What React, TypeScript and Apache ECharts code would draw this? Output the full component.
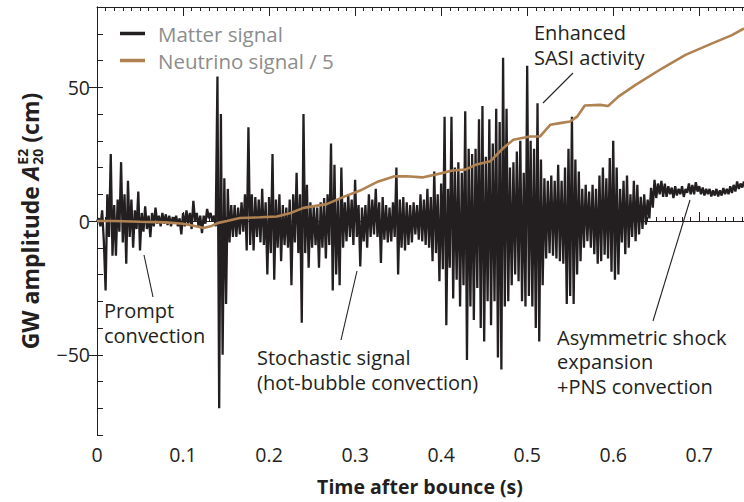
import { useEffect, useRef } from 'react';
import * as echarts from 'echarts';

// Sampling step of the matter-signal trace (s)
const T_STEP = 0.002;

// Matter signal (cm), one value per T_STEP (rows of 0.02 s)
const matterSignal: number[] = [
  0, 1, -2, 4, -8, -26, 10, -6, 25, -13,
  6, -13, 8, -4, 22, -8, 10, -16, 15, -6,
  8, -10, 4, -3, 11, -11, 3, -4, 5.5, -3,
  2, -6, 3, -2, 5, -1, 2, -2, 3, -1,
  2.5, -1.5, 2, -2, 1.5, -1, 2, -2, 1, -5,
  3, -2, 4, -1, 3, -3, 7.5, 0, 3, -2,
  2, -4.5, 2, -1, 4.5, 1, 3, 0, 2, -2,
  54, -70, 40, -50, 16, -31, 12, -8, 6, -6,
  6, -6, 5, -5, 7, -4, 10, -11, 35, -9,
  10, -11, 9, -6, 8, -8, 12, -9, 7, -20,
  9, -12, 25, -22, 8, -10, 10, -15, 6, -9,
  5, -10, 8, -24, 10, -8, 18, -12, 10, -38,
  40, -12, 13.5, -17.5, 7, -10, 6, -9, 5, -17.5,
  7, -10, 8.6, -14, 10, -9, 29, -26, 21, -20,
  8, -24, 20, -10, 7, -7.6, 10, -6, 8, -9,
  15.4, -6, 6, -17, 5, -7.6, 6, -10, 10, -6,
  8, -5, 12, -6, 7, -15.7, 9, -7, 6, -8,
  5, -7.6, 7, -6, 20, -20, 8, -10, 9, -11,
  7, -9, 6, -8, 7, -5, 6, -7, 10, -7.6,
  8, -9, 12, -10, 9, -15, 18.5, -12, 10, -22.5,
  14, -18, 39, -39, 12, -17.5, 39, -29, 20, -22,
  22, -32, 18, -24, 41, -52, 27, -32, 25, -37,
  27, -25, 38, -40, 43, -45, 24, -30, 38, -39,
  29, -30, 42, -51, 37, -55.5, 61, -32, 42, -30,
  20, -24, 22, -20, 26, -22.5, 30, -30, 18, -32,
  58, -28, 30, -32, 27, -40, 44, -45, 23, -24,
  16, -14, 15, -12, 17, -13, 15, -14, 21, -15,
  15, -16, 20, -31, 27, -28, 39, -31, 23, -20,
  18.5, -15, 12, -10, 13.5, -7.6, 11, -10, 13.5, -12.4,
  12, -16, 17, -15, 20, -12.6, 16, -14, 23.5, -19,
  30, -22, 20, -20, 12, -8, 15, -12.4, 17, -10,
  10, -6, 15, -7.6, 13.5, -5, 9, -3, 10, -1.4,
  8, 1, 12.4, 5, 15.4, 8.6, 14, 10, 15, 9,
  14, 9, 13, 10, 12.5, 8.6, 13, 9.5, 12, 10,
  13, 9, 12, 10.5, 14, 10, 13.5, 10, 14.5, 11,
  13, 10, 12.5, 9.5, 12, 10, 12, 9.2, 11.5, 9.5,
  12, 9.2, 11.5, 9.5, 12.3, 10, 12, 10, 13, 10.5,
  13.5, 11, 14.8, 12, 14, 12.5, 14.8,
];

// Neutrino signal / 5 (cm)
const neutrinoTime: number[] = [
  0, 0.02, 0.05, 0.08, 0.1, 0.115, 0.124, 0.132, 0.14, 0.151,
  0.166, 0.19, 0.209, 0.225, 0.24, 0.267, 0.288, 0.308, 0.327, 0.346,
  0.36, 0.378, 0.401, 0.413, 0.428, 0.44, 0.457, 0.472, 0.484, 0.503,
  0.515, 0.527, 0.538, 0.55, 0.558, 0.567, 0.585, 0.594, 0.606, 0.626,
  0.657, 0.684, 0.715, 0.738, 0.752,
];
const neutrinoSignal: number[] = [
  0, 0, -0.3, -0.5, -1, -2, -2.6, -2, -0.8, 0,
  1.1, 1.4, 1.7, 3, 4.9, 6.3, 9.2, 11.7, 14.8, 16.7,
  16.7, 16.3, 17.9, 18.9, 19.2, 21, 22.3, 27.2, 30.4, 31.6,
  31.6, 36, 36.6, 37.2, 39, 43.2, 43.4, 43, 46.5, 50.9,
  57.1, 62.1, 66.4, 69.5, 72,
];

const seriesNames = ['Matter signal', 'Neutrino signal / 5'];
const xMajorTicks = [0, 0.1, 0.2, 0.3, 0.4, 0.5, 0.6, 0.7];
const yLabelTicks = [-50, 0, 50];

const FAMILY = "'Open Sans', 'Noto Sans', sans-serif";
const INK = '#231f20';
const TAN = '#b08252';
const GREY = '#8c8c8c';

export default function App() {
  const ref = useRef<HTMLDivElement>(null);

  useEffect(() => {
    const el = ref.current;
    if (!el) return;
    const chart = echarts.init(el, undefined, { renderer: 'svg' });

    const ctx = document.createElement('canvas').getContext('2d')!;
    const measure = (font: string, s: string) => {
      ctx.font = font;
      return ctx.measureText(s).width;
    };

    // y-axis title pieces
    const mainFont = `bold 23px ${FAMILY}`;
    const italFont = `italic bold 23px ${FAMILY}`;
    const smallFont = `bold 14px ${FAMILY}`;
    const w1 = measure(mainFont, 'GW amplitude ');
    const wA = measure(italFont, 'A');
    const wS = Math.max(measure(smallFont, 'E2'), measure(smallFont, '20'));
    const w4 = measure(mainFont, ' (cm)');
    const total = w1 + wA + 1 + wS + w4;
    const x0 = -total / 2;

    const matterData = matterSignal.map((v, i) => [+(i * T_STEP).toFixed(3), v]);
    const neutrinoData = neutrinoTime.map((t, i) => [t, neutrinoSignal[i]]);

    const tickLine = { color: INK, width: 1 };
    const xFmt = (v: number) => (v === 0 ? '0' : v.toFixed(1));
    const yFmt = (v: number) => (v < 0 ? '\u2212' + Math.abs(v) : String(v));

    const xBase = {
      type: 'value' as const,
      min: 0,
      max: 0.752,
      splitLine: { show: false },
    };

    const annText = (x: number, y: number, text: string, lh: number) => ({
      type: 'text',
      x,
      y,
      style: {
        text,
        fill: INK,
        fontSize: 20,
        fontFamily: FAMILY,
        lineHeight: lh,
        align: 'left',
        verticalAlign: 'top',
      },
      z: 100,
    });
    const annLine = (x1: number, y1: number, x2: number, y2: number) => ({
      type: 'line',
      shape: { x1, y1, x2, y2 },
      style: { stroke: INK, lineWidth: 1.1 },
      z: 100,
    });

    const option: any = {
      animation: false,
      backgroundColor: '#ffffff',
      grid: { left: 97, right: 0, top: 7, height: 428 },
      legend: {
        data: seriesNames,
        orient: 'vertical',
        left: 115,
        top: 17,
        icon: 'rect',
        itemWidth: 25,
        itemHeight: 3.5,
        itemGap: 4,
        selectedMode: false,
        textStyle: {
          color: GREY,
          fontSize: 20.5,
          fontFamily: FAMILY,
          lineHeight: 23,
          padding: [0, 0, 0, 8],
        },
      },
      xAxis: [
        {
          ...xBase,
          position: 'bottom',
          interval: 0.01,
          axisLine: { show: true, lineStyle: tickLine },
          axisTick: { show: true, inside: true, length: 4, lineStyle: tickLine },
          axisLabel: { show: false },
        },
        {
          ...xBase,
          position: 'bottom',
          axisLine: { show: false },
          axisTick: { show: true, inside: true, length: 9, customValues: xMajorTicks, lineStyle: tickLine },
          axisLabel: {
            show: true,
            customValues: xMajorTicks,
            formatter: xFmt,
            color: INK,
            fontSize: 19.5,
            fontFamily: FAMILY,
            margin: 9,
          },
        },
        {
          ...xBase,
          position: 'top',
          interval: 0.01,
          axisLine: { show: true, lineStyle: tickLine },
          axisTick: { show: true, inside: true, length: 4, lineStyle: tickLine },
          axisLabel: { show: false },
        },
        {
          ...xBase,
          position: 'top',
          axisLine: { show: false },
          axisTick: { show: true, inside: true, length: 9, customValues: xMajorTicks, lineStyle: tickLine },
          axisLabel: { show: false },
        },
      ],
      yAxis: [
        {
          type: 'value',
          min: -80,
          max: 80,
          interval: 10,
          position: 'left',
          splitLine: { show: false },
          axisLine: { show: true, lineStyle: tickLine },
          axisTick: { show: true, inside: true, length: 6, lineStyle: tickLine },
          axisLabel: {
            show: true,
            customValues: yLabelTicks,
            formatter: yFmt,
            color: INK,
            fontSize: 19.5,
            fontFamily: FAMILY,
            margin: 7,
          },
        },
        {
          type: 'value',
          min: -80,
          max: 80,
          position: 'right',
          splitLine: { show: false },
          axisLine: { show: true, lineStyle: tickLine },
          axisTick: { show: true, inside: true, length: 8, customValues: yLabelTicks, lineStyle: tickLine },
          axisLabel: { show: false },
        },
      ],
      series: [
        {
          name: seriesNames[0],
          type: 'line',
          xAxisIndex: 0,
          yAxisIndex: 0,
          data: matterData,
          symbol: 'none',
          showSymbol: false,
          lineStyle: { color: INK, width: 2.3 },
          itemStyle: { color: INK },
          z: 2,
        },
        {
          name: seriesNames[1],
          type: 'line',
          xAxisIndex: 0,
          yAxisIndex: 0,
          data: neutrinoData,
          symbol: 'none',
          showSymbol: false,
          lineStyle: { color: TAN, width: 2.6 },
          itemStyle: { color: TAN },
          z: 3,
        },
      ],
      graphic: [
        annText(104, 298, 'Prompt\nconvection', 25),
        annLine(144, 255, 153, 297),
        annText(257, 345, 'Stochastic signal\n(hot-bubble convection)', 25),
        annLine(357, 271, 341, 340),
        annText(534, 20, 'Enhanced\nSASI activity', 25),
        annLine(573, 73, 543, 103),
        annText(557, 325, 'Asymmetric shock\nexpansion\n+PNS convection', 24.5),
        annLine(690, 200, 653, 321),
        {
          type: 'text',
          x: 420,
          y: 486,
          style: {
            text: 'Time after bounce (s)',
            font: `bold 19.5px ${FAMILY}`,
            fill: INK,
            align: 'center',
            verticalAlign: 'middle',
          },
        },
        {
          type: 'group',
          x: 30,
          y: 221,
          rotation: Math.PI / 2,
          children: [
            {
              type: 'text',
              x: x0,
              y: 0,
              style: { text: 'GW amplitude ', font: mainFont, fill: INK, align: 'left', verticalAlign: 'middle' },
            },
            {
              type: 'text',
              x: x0 + w1,
              y: 0,
              style: { text: 'A', font: italFont, fill: INK, align: 'left', verticalAlign: 'middle' },
            },
            {
              type: 'text',
              x: x0 + w1 + wA + 1,
              y: -8,
              style: { text: 'E2', font: smallFont, fill: INK, align: 'left', verticalAlign: 'middle' },
            },
            {
              type: 'text',
              x: x0 + w1 + wA + 1,
              y: 7,
              style: { text: '20', font: smallFont, fill: INK, align: 'left', verticalAlign: 'middle' },
            },
            {
              type: 'text',
              x: x0 + w1 + wA + 1 + wS,
              y: 0,
              style: { text: ' (cm)', font: mainFont, fill: INK, align: 'left', verticalAlign: 'middle' },
            },
          ],
        },
      ],
    };

    chart.setOption(option);
    return () => chart.dispose();
  }, []);

  return (
    <div
      ref={ref}
      style={{ position: 'fixed', left: 0, top: 0, width: 744, height: 502, background: '#fff' }}
    />
  );
}
